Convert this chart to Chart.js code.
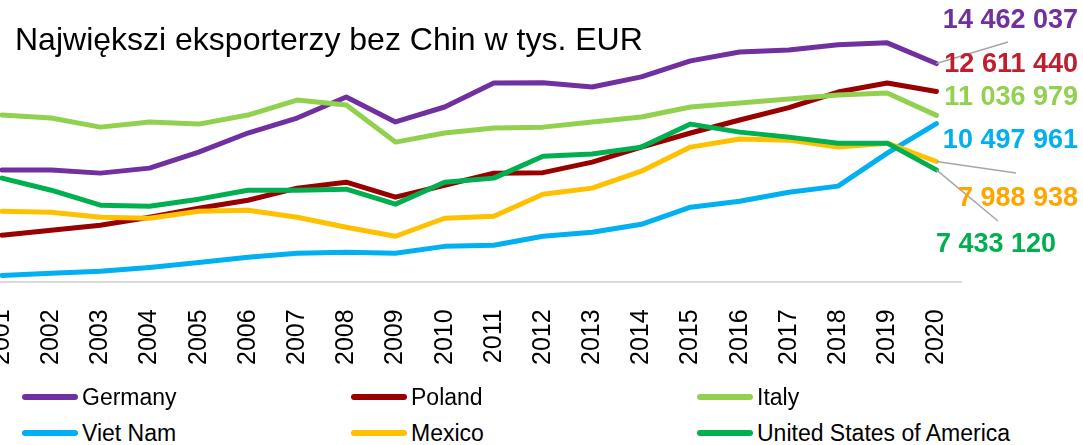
<!DOCTYPE html>
<html>
<head>
<meta charset="utf-8">
<script src="https://cdn.jsdelivr.net/npm/chart.js@4/dist/chart.umd.min.js"></script>
<style>
  html, body { margin: 0; padding: 0; background: #fff; }
  #wrap { position: relative; width: 1083px; height: 445px; overflow: hidden; font-family: "Liberation Sans", Arial, sans-serif; }
  #box { position: absolute; left: -25px; top: 0; width: 1108px; height: 392px; }
  .leg { position: absolute; display: flex; align-items: center; font-size: 23px; color: #000; white-space: nowrap; }
  .leg i { display: inline-block; width: 56px; height: 6px; border-radius: 3px; margin-right: 4px; }
</style>
</head>
<body>
<div id="wrap">
  <div id="box"><canvas id="exporters"></canvas></div>
  <div id="legend"></div>
</div>
<script>
// wartości w tys. EUR
var years = ['2001','2002','2003','2004','2005','2006','2007','2008','2009','2010','2011','2012','2013','2014','2015','2016','2017','2018','2019','2020'];
var countries = ['Germany','Poland','Italy','Viet Nam','Mexico','United States of America'];
var germany = [7420000,7420000,7220000,7550000,8610000,9870000,10860000,12250000,10600000,11590000,13180000,13200000,12910000,13580000,14640000,15230000,15360000,15700000,15830000,14462037];
var poland  = [3110000,3440000,3770000,4300000,4900000,5430000,6230000,6620000,5630000,6420000,7220000,7250000,7950000,8940000,9870000,10730000,11550000,12580000,13180000,12611440];
var italy   = [11060000,10860000,10260000,10600000,10460000,11060000,12050000,11720000,9270000,9870000,10200000,10260000,10600000,10930000,11590000,11850000,12120000,12380000,12520000,11036979];
var vietnam = [460000,600000,730000,990000,1320000,1660000,1920000,1990000,1920000,2380000,2450000,3050000,3310000,3840000,4970000,5360000,5960000,6360000,8540000,10497961];
var mexico  = [4700000,4640000,4300000,4240000,4700000,4770000,4300000,3640000,3050000,4240000,4370000,5830000,6230000,7350000,8940000,9470000,9400000,8940000,9200000,7988938];
var usa     = [6890000,6090000,5100000,5030000,5500000,6090000,6090000,6160000,5170000,6620000,6890000,8340000,8480000,8940000,10460000,9930000,9600000,9200000,9200000,7433120];
var series = [germany, poland, italy, vietnam, mexico, usa];
var lineColors = ['#7030A0','#990000','#92D050','#00B0F0','#FFC000','#00B050'];
var labelColors = ['#7030A0','#BE1E2D','#92D050','#00B0F0','#FFA500','#00B050'];

// rozmieszczenie etykiet końcowych (tekst), y = środek
var endLabels = [
  {x: 1103, y: 21, align: 'right', lead: [1033, 42]},
  {x: 1103, y: 65, align: 'right'},
  {x: 1103, y: 98, align: 'right'},
  {x: 1103, y: 141, align: 'right'},
  {x: 1103, y: 199, align: 'right', lead: [1041, 173]},
  {x: 961, y: 245, align: 'left', lead: [1023, 221]}
];

function fmt(v) {
  return String(v).replace(/\B(?=(\d{3})+(?!\d))/g, ' ');
}

var extras = {
  id: 'extras',
  afterDatasetsDraw: function(chart) {
    var ctx = chart.ctx;
    ctx.save();
    ctx.fillStyle = '#000';
    ctx.font = '32px "Liberation Sans", Arial, sans-serif';
    ctx.textBaseline = 'alphabetic';
    ctx.textAlign = 'left';
    ctx.fillText('Największi eksporterzy bez Chin w tys. EUR', 40, 50);

    ctx.strokeStyle = '#A6A6A6';
    ctx.lineWidth = 1.5;
    endLabels.forEach(function(l, i) {
      if (!l.lead) return;
      var meta = chart.getDatasetMeta(i);
      var p = meta.data[meta.data.length - 1];
      ctx.beginPath();
      ctx.moveTo(p.x, p.y);
      ctx.lineTo(l.lead[0], l.lead[1]);
      ctx.stroke();
    });

    ctx.font = 'bold 27px "Liberation Sans", Arial, sans-serif';
    ctx.textBaseline = 'middle';
    endLabels.forEach(function(l, i) {
      var d = series[i];
      ctx.fillStyle = labelColors[i];
      ctx.textAlign = l.align;
      ctx.fillText(fmt(d[d.length - 1]), l.x, l.y);
    });
    ctx.restore();
  }
};

var datasets = [];
for (let i = 0; i < countries.length; i++) {
  datasets.push({
    label: countries[i],
    data: series[i],
    borderColor: lineColors[i],
    backgroundColor: lineColors[i],
    borderWidth: 5,
    borderJoinStyle: 'round',
    borderCapStyle: 'round',
    pointRadius: 0,
    tension: 0,
    fill: false,
    order: countries.length - i
  });
}

new Chart(document.getElementById('exporters'), {
  type: 'line',
  data: { labels: years, datasets: datasets },
  options: {
    responsive: true,
    maintainAspectRatio: false,
    animation: false,
    layout: { padding: { left: 0, right: 122, top: 10, bottom: 0 } },
    plugins: { legend: { display: false }, tooltip: { enabled: false } },
    scales: {
      x: {
        offset: true,
        grid: { display: false, drawTicks: false },
        border: { display: true, color: '#D9D9D9', width: 2 },
        ticks: {
          minRotation: 90,
          maxRotation: 90,
          padding: 27,
          color: '#000',
          font: { family: '"Liberation Sans", Arial, sans-serif', size: 25 }
        }
      },
      y: {
        display: false,
        min: 0,
        max: 18000000
      }
    }
  },
  plugins: [extras]
});

// legenda w trzech kolumnach
var legend = document.getElementById('legend');
var legX = [22, 351, 697];
var legY = [397, 433];
countries.forEach(function(name, i) {
  var el = document.createElement('div');
  el.className = 'leg';
  el.style.left = legX[i % 3] + 'px';
  el.style.top = (legY[Math.floor(i / 3)] - 14) + 'px';
  el.style.height = '28px';
  el.innerHTML = '<i style="background:' + lineColors[i] + '"></i>';
  el.appendChild(document.createTextNode(name));
  legend.appendChild(el);
});
</script>
</body>
</html>
